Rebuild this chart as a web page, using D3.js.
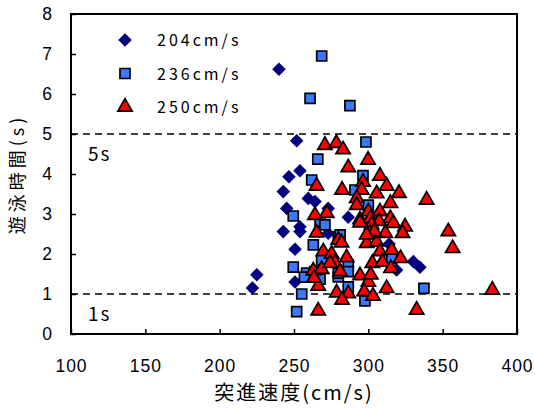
<!DOCTYPE html>
<html>
<head>
<meta charset="utf-8">
<script src="https://cdn.jsdelivr.net/npm/d3@7"></script>
<style>
  body { margin: 0; background: #fff; }
  svg text { fill: #000; }
</style>
</head>
<body>
<div id="chart"></div>
<script>
// ── Data: [突進速度 cm/s, 遊泳時間 s] per flow condition ──
const s204 = [
  [239.9, 6.62], [251.8, 4.83], [254, 4.08], [246.6, 3.93], [242.8, 3.56],
  [259.6, 3.39], [264.1, 3.31], [245.1, 3.14], [273, 3.14], [286.5, 2.92],
  [254, 2.68], [242.8, 2.56], [254, 2.56], [273, 2.52], [250.7, 2.12],
  [250.7, 1.3], [225, 1.48], [222, 1.15], [314, 2.25], [319, 1.6],
  [330.3, 1.81], [334.7, 1.67]
];
const s236 = [
  [268.6, 6.95], [260.8, 5.89], [287.6, 5.71], [298.4, 4.8], [266, 4.37],
  [261.9, 3.85], [296.4, 3.96], [291, 3.6], [300, 3.22], [249.5, 2.95],
  [267.5, 2.82], [270.8, 2.73], [279.8, 2.43], [263, 2.23], [268.6, 1.85],
  [286.5, 1.73], [286.5, 1.56], [249.5, 1.67], [258.5, 1.52], [257, 1.42],
  [264, 1.56], [267.5, 1.37], [279.8, 1.43], [279.8, 1.52], [286.5, 1.18],
  [297.7, 0.83], [255.2, 1.0], [251.8, 0.56], [315.7, 1.89], [337.4, 1.14],
  [281, 2.48]
];
const s250 = [
  [270.8, 4.72], [278.5, 4.77], [283, 4.61], [286.5, 4.16], [299.8, 4.35],
  [265.2, 3.7], [296.5, 3.8], [307.8, 3.95], [295.5, 3.6], [282.3, 3.6],
  [305.6, 3.51], [312.3, 3.7], [320.6, 3.52], [339.2, 3.35], [292.2, 3.39],
  [292.2, 3.22], [314.8, 3.27], [300, 3.06], [307.8, 3.06], [264.1, 2.97],
  [272, 3.02], [294.4, 2.86], [301.4, 2.89], [307.3, 2.82], [314.8, 2.89],
  [302.2, 2.73], [265.2, 2.53], [279.8, 2.35], [282, 2.28], [269.7, 2.06],
  [275.3, 2.0], [285.4, 1.91], [298.9, 2.27], [305.6, 2.3], [307.8, 2.06],
  [301.1, 2.52], [294.4, 2.78], [311.4, 2.52], [316.8, 2.77], [324.7, 2.68],
  [323, 2.52], [304, 2.56], [298.9, 2.48], [353.8, 2.56], [356.7, 2.14],
  [315.7, 2.1], [321.7, 1.89], [277.6, 1.78], [302.7, 1.77], [309.5, 1.8],
  [315.2, 1.64], [263, 1.58], [268.6, 1.62], [266.3, 1.2], [263.5, 1.4],
  [294.4, 1.46], [300, 1.3], [312.3, 1.14], [278.7, 1.03], [286.5, 1.01],
  [282.3, 0.85], [297.2, 1.06], [303.1, 0.95], [266.3, 0.58], [332.5, 0.6],
  [383.4, 1.1], [281, 1.56], [274.2, 1.77], [301.6, 1.48]
];
const seriesNames = ["204cm/s", "236cm/s", "250cm/s"];
const xTicks = [100, 150, 200, 250, 300, 350, 400];
const yTicks = [0, 1, 2, 3, 4, 5, 6, 7, 8];
const refLines = [5, 1];
const refLabels = ["5s", "1s"];

// ── Layout ──
const W = 535, H = 410;
const M = { t: 14, r: 18, b: 76, l: 71 };

const svg = d3.select("#chart").append("svg")
  .attr("width", W).attr("height", H);

const x = d3.scaleLinear().domain([100, 400]).range([M.l, W - M.r]);
const y = d3.scaleLinear().domain([0, 8]).range([H - M.b, M.t]);

const tickFont = "'Liberation Sans', Arial, sans-serif";
const jpFont = "'Noto Sans CJK JP', sans-serif";

// ── Axes (ticks point inward) ──
const xG = svg.append("g")
  .attr("transform", `translate(0,${H - M.b})`)
  .call(d3.axisBottom(x).tickValues(xTicks).tickSizeInner(-5).tickSizeOuter(0).tickPadding(26));
const yG = svg.append("g")
  .attr("transform", `translate(${M.l},0)`)
  .call(d3.axisLeft(y).tickValues(yTicks).tickSizeInner(-5).tickSizeOuter(0).tickPadding(18));

[xG, yG].forEach((a) => {
  a.select(".domain").remove();
  a.selectAll(".tick line").attr("stroke", "#000").attr("stroke-width", 1.5);
  a.selectAll("text")
    .attr("font-family", tickFont)
    .attr("font-size", "17.5px")
    .attr("letter-spacing", "1px")
    .attr("fill", "#000");
});

// frame
svg.append("rect")
  .attr("x", x(100)).attr("y", y(8))
  .attr("width", x(400) - x(100)).attr("height", y(0) - y(8))
  .attr("fill", "none").attr("stroke", "#000").attr("stroke-width", 2);

// ── Reference lines ──
refLines.forEach((v, i) => {
  svg.append("line")
    .attr("x1", x(100)).attr("x2", x(400))
    .attr("y1", y(v)).attr("y2", y(v))
    .attr("stroke", "#000").attr("stroke-width", 1.3)
    .attr("stroke-dasharray", "7,5");
  svg.append("text")
    .attr("x", x(100) + 17)
    .attr("y", y(v) + 27)
    .attr("font-family", jpFont)
    .attr("font-size", "19px")
    .attr("letter-spacing", "2px")
    .text(refLabels[i]);
});

// ── Markers ──
const diamond = d3.symbol(d3.symbolSquare, 92)();
const square = d3.symbol(d3.symbolSquare, 100)();
const tri = d3.symbol(d3.symbolTriangle, 88)();

const styles = [
  { data: s204, path: diamond, rot: 45, fill: "#000080", stroke: "none" },
  { data: s236, path: square, rot: 0, fill: "#3b78ff", stroke: "#000" },
  { data: s250, path: tri, rot: 0, fill: "#ff0000", stroke: "#000" }
];

const mG = svg.append("g");
styles.forEach((s) => {
  mG.selectAll(null).data(s.data).enter().append("path")
    .attr("d", s.path)
    .attr("transform", (d) => `translate(${x(d[0])},${y(d[1])}) rotate(${s.rot})`)
    .attr("fill", s.fill)
    .attr("stroke", s.stroke)
    .attr("stroke-width", 1.7);
});

// ── Legend ──
styles.forEach((s, i) => {
  const ly = 40 + i * 33.5;
  svg.append("path")
    .attr("d", s.path)
    .attr("transform", `translate(125,${ly}) rotate(${s.rot})`)
    .attr("fill", s.fill).attr("stroke", s.stroke).attr("stroke-width", 1.7);
  svg.append("text")
    .attr("x", 157).attr("y", ly + 6)
    .attr("font-family", jpFont)
    .attr("font-size", "16px")
    .attr("letter-spacing", "3px")
    .text(seriesNames[i]);
});

// ── Axis titles ──
svg.append("text")
  .attr("x", (x(100) + x(400)) / 2).attr("y", 400)
  .attr("text-anchor", "middle")
  .attr("font-family", jpFont)
  .attr("font-size", "20px")
  .attr("letter-spacing", "2px")
  .text("突進速度(cm/s)");

svg.append("text")
  .attr("transform", `translate(24,${(y(0) + y(8)) / 2}) rotate(-90)`)
  .attr("text-anchor", "middle")
  .attr("font-family", jpFont)
  .attr("font-size", "18px")
  .attr("letter-spacing", "4px")
  .text("遊泳時間(s)");
</script>
</body>
</html>
